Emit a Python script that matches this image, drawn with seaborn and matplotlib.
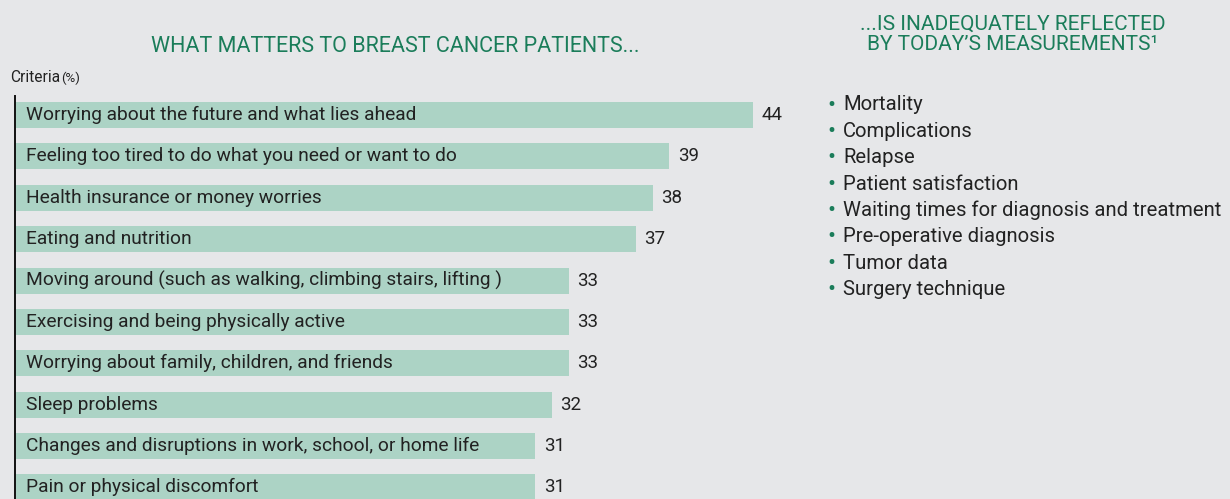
import matplotlib
matplotlib.use("Agg")
import matplotlib.pyplot as plt
import seaborn as sns
import pandas as pd

criteria = [
    "Worrying about the future and what lies ahead",
    "Feeling too tired to do what you need or want to do",
    "Health insurance or money worries",
    "Eating and nutrition",
    "Moving around (such as walking, climbing stairs, lifting )",
    "Exercising and being physically active",
    "Worrying about family, children, and friends",
    "Sleep problems",
    "Changes and disruptions in work, school, or home life",
    "Pain or physical discomfort",
]
percent = [44, 39, 38, 37, 33, 33, 33, 32, 31, 31]

measurements = [
    "Mortality",
    "Complications",
    "Relapse",
    "Patient satisfaction",
    "Waiting times for diagnosis and treatment",
    "Pre-operative diagnosis",
    "Tumor data",
    "Surgery technique",
]

BG = "#e6e7e9"
BAR = "#acd3c5"
GREEN = "#1b7d5a"
DARK = "#222222"

sns.set_style("white")
plt.rcParams["font.family"] = ["Roboto", "DejaVu Sans"]

df = pd.DataFrame({"criteria": criteria, "percent": percent})

fig = plt.figure(figsize=(12.3, 4.99), dpi=100, facecolor=BG)
W, H = 1230, 499
ax = fig.add_axes([15 / W, 0, (790 - 15) / W, (499 - 96) / H])
ax.set_facecolor(BG)

sns.barplot(data=df, x="percent", y="criteria", orient="h", color=BAR,
            saturation=1, width=0.63, linewidth=0, edgecolor="none", ax=ax)

ax.set_xlim(-0.06, 46.2)
ax.set_ylim(9.28, -0.46)
ax.set_xticks([])
ax.set_yticks([])
ax.set_xlabel("")
ax.set_ylabel("")
for s in ["top", "right", "bottom"]:
    ax.spines[s].set_visible(False)
ax.spines["left"].set_color("#111111")
ax.spines["left"].set_linewidth(1.4)

for i, (lab, v) in enumerate(zip(criteria, percent)):
    ax.text(0.6, i, lab, va="center", ha="left", fontsize=13.8, color=DARK)
    ax.text(v + 0.5, i, str(v), va="center", ha="left", fontsize=13.5, color=DARK)

fig.text(395 / W, 1 - 46 / H, "WHAT MATTERS TO BREAST CANCER PATIENTS...",
         ha="center", va="center", fontsize=15.5, color=GREEN)
fig.text(10 / W, 1 - 78 / H, "Criteria", ha="left", va="center",
         fontsize=11.2, color=DARK)
fig.text(61 / W, 1 - 78 / H, "(%)", ha="left", va="center",
         fontsize=9.5, color=DARK)

fig.text(1013 / W, 1 - 24 / H, "...IS INADEQUATELY REFLECTED",
         ha="center", va="center", fontsize=15, color=GREEN)
fig.text(1013 / W, 1 - 45 / H, "BY TODAY\u2019S MEASUREMENTS\u00b9",
         ha="center", va="center", fontsize=15, color=GREEN)

for k, m in enumerate(measurements):
    y = 1 - (105 + 26.4 * k) / H
    fig.text(831 / W, y, "\u2022", ha="center", va="center", fontsize=17, color=GREEN)
    fig.text(843 / W, y, m, ha="left", va="center", fontsize=14.6, color=DARK)

fig.savefig("out.png", dpi=100, facecolor=BG)
